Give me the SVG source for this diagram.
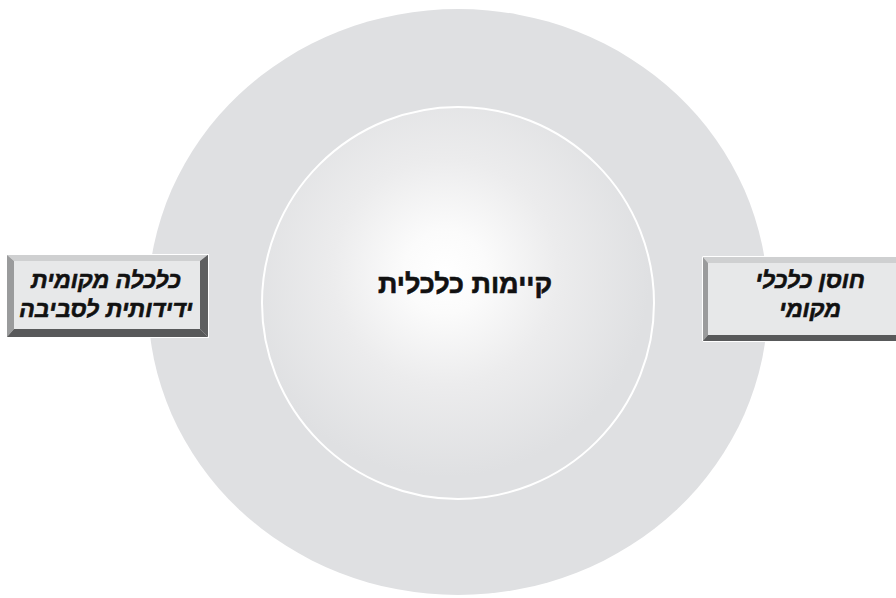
<svg xmlns="http://www.w3.org/2000/svg" width="896" height="598" viewBox="0 0 896 598">
<defs>
<radialGradient id="glow" cx="445" cy="272" r="205" gradientUnits="userSpaceOnUse">
<stop offset="0" stop-color="#ffffff"/>
<stop offset="0.2" stop-color="#fbfbfb"/>
<stop offset="0.55" stop-color="#ececed"/>
<stop offset="1" stop-color="#dfe0e2"/>
</radialGradient>
<style>
.outer{fill:#dfe0e2}
.inner{fill:url(#glow);stroke:#ffffff;stroke-width:2}
.face{fill:#e7e8e9}
.bt{fill:#cfd0d1}
.bl{fill:#9a9b9c}
.br{fill:#5e5f60}
.bb{fill:#58595a}
.edge{fill:none;stroke:#ffffff;stroke-width:1}
.lbl{font-family:"Liberation Sans","DejaVu Sans",sans-serif;font-weight:bold;font-style:italic;font-size:23px;fill:#111;stroke:#111;stroke-width:0.6;text-anchor:middle}
.ctr{font-family:"Liberation Sans","DejaVu Sans",sans-serif;font-weight:bold;font-size:27px;fill:#111;stroke:#111;stroke-width:0.6;text-anchor:middle}
</style>
</defs>
<g id="outer-ring">
<ellipse class="outer" cx="458" cy="302" rx="310" ry="293"/>
</g>
<g id="core">
<circle class="inner" cx="458" cy="303" r="196"/>
<text class="ctr" x="465" y="293" direction="rtl">קיימות כלכלית</text>
</g>
<g id="box-left">
<polygon class="bt" points="6,254 209,254 200,261 14,261"/>
<polygon class="bl" points="6,254 14,261 14,329 6,338"/>
<polygon class="br" points="209,254 209,338 200,329 200,261"/>
<polygon class="bb" points="6,338 14,329 200,329 209,338"/>
<rect class="face" x="14" y="261" width="186" height="68"/>
<rect class="edge" x="6.5" y="254.5" width="202" height="83"/>
<text class="lbl" x="106" y="288" direction="rtl">כלכלה מקומית</text>
<text class="lbl" x="106" y="317" direction="rtl">ידידותית לסביבה</text>
</g>
<g id="box-right">
<polygon class="bt" points="702,256 896,256 896,263 708,263"/>
<polygon class="bl" points="702,256 708,263 708,335 702,342"/>
<polygon class="bb" points="702,342 708,335 896,335 896,342"/>
<rect class="face" x="708" y="263" width="188" height="72"/>
<polyline class="edge" points="896,256.5 702.5,256.5 702.5,341.5 896,341.5"/>
<text class="lbl" x="810" y="288" direction="rtl">חוסן כלכלי</text>
<text class="lbl" x="810" y="317" direction="rtl">מקומי</text>
</g>
<g id="connectors"/>
</svg>
